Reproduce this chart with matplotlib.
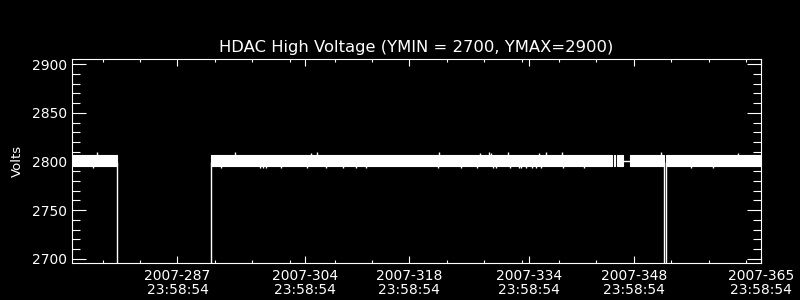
import matplotlib
matplotlib.use("Agg")
import matplotlib.pyplot as plt

# day-of-year 2007 (fractional), voltage band of the dense trace
segment_start = [273.0, 291.42, 345.32, 345.82, 347.46, 352.33]
segment_end = [278.88, 345.15, 345.46, 346.59, 352.06, 365.0]
band_low = 2795.0
band_high = 2806.5

# thin link across the small gap near day 347
link_days = [346.59, 347.46]
link_volts = [2801, 2801]

# dropouts (values fall far below YMIN)
drop_days = [278.88, 291.42, 352.06, 352.33]
drop_low = 2600

# isolated spikes out of the band
spike_up_days = [276.18, 294.72, 304.90, 305.66, 321.94, 327.43, 328.59, 328.86,
                 331.17, 335.32, 336.22, 338.46, 351.62, 361.96]
spike_up_volts = [2810, 2810, 2809, 2810, 2810, 2809, 2810, 2809,
                  2810, 2809, 2810, 2810, 2810, 2809]
spike_down_days = [275.68, 292.76, 297.98, 298.43, 298.87, 300.88, 304.32, 306.91,
                   309.14, 310.83, 312.26, 321.80, 324.84, 327.08, 329.22, 329.53,
                   331.44, 332.65, 332.87, 333.54, 334.44, 334.88, 335.55, 338.59,
                   341.35, 355.63, 358.61]
spike_down_volts = [2793] * len(spike_down_days)

major_days = [287, 304, 318, 334, 348, 365]
major_labels = ["2007-%d\n23:58:54" % d for d in major_days]
minor_days = [277, 282, 292, 297, 302, 308, 313, 323, 328, 333, 338, 343, 353, 358, 363]

fig = plt.figure(figsize=(8, 3), dpi=100, facecolor="black")
ax = fig.add_axes([0.0904, 0.1223, 0.8607, 0.68], facecolor="black")

for s, e in zip(segment_start, segment_end):
    ax.fill_between([s, e], band_low, band_high, color="white", lw=0.8)
ax.plot(link_days, link_volts, color="white", lw=1)
ax.vlines(drop_days, drop_low, 2800, color="white", lw=1)
ax.vlines(spike_up_days, 2800, spike_up_volts, color="white", lw=1)
ax.vlines(spike_down_days, spike_down_volts, 2800, color="white", lw=1)

ax.set_xlim(272.94, 365.0)
ax.set_ylim(2695.3, 2905.1)

ax.set_xticks(major_days)
ax.set_xticklabels(major_labels, linespacing=1.05)
ax.set_xticks(minor_days, minor=True)
ax.set_yticks([2700, 2750, 2800, 2850, 2900])
ax.set_yticks(range(2700, 2901, 10), minor=True)

ax.tick_params(which="both", direction="in", colors="white", top=True, right=True,
               labelsize=10, width=0.8)
ax.tick_params(axis="x", which="major", length=4.8, pad=4)
ax.tick_params(axis="x", which="minor", length=2.4)
ax.tick_params(axis="y", which="major", length=10.3, pad=3.5)
ax.tick_params(axis="y", which="minor", length=5.5)

for sp in ax.spines.values():
    sp.set_color("white")
    sp.set_linewidth(0.8)

ax.set_title("HDAC High Voltage (YMIN = 2700, YMAX=2900)", color="white",
             fontsize=11.8, pad=5)
ax.set_ylabel("Volts", color="white", fontsize=9.5, labelpad=6)

fig.savefig("out.png", dpi=100, facecolor="black")
